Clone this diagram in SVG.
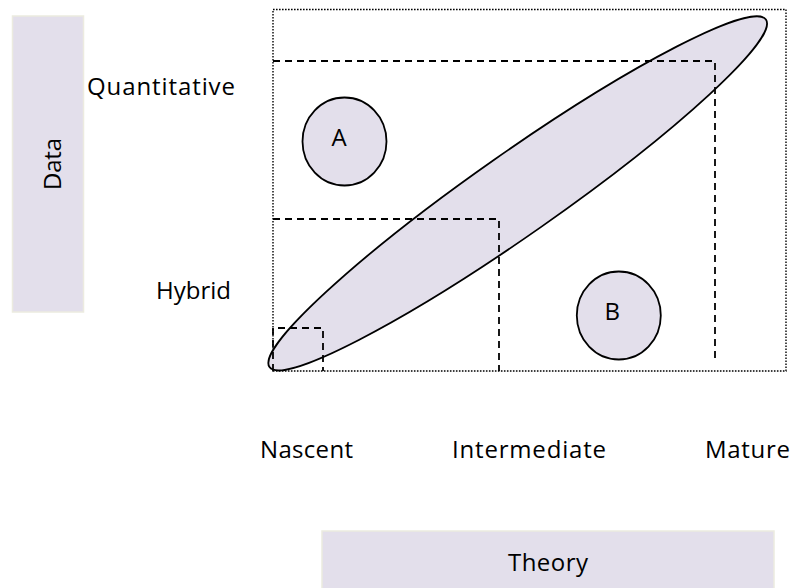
<svg xmlns="http://www.w3.org/2000/svg" width="791" height="588" viewBox="0 0 791 588">
<style>
.lbl{font-family:"Open Sans","Liberation Sans",sans-serif;font-size:24px;fill:#000}
.band{fill:#e3dfeb;stroke:#ecebe0;stroke-width:1.5}
.shape{fill:#e3dfeb;stroke:#000;stroke-width:1.8}
.dash{fill:none;stroke:#000;stroke-width:1.8;stroke-dasharray:7 5}
.dot{fill:none;stroke:#000;stroke-width:1.4;stroke-dasharray:1.6 1.4}
</style>
<rect width="791" height="588" fill="#fff"/>
<g id="data-axis">
<rect class="band" x="12.5" y="16" width="71" height="296"/>
<text class="lbl" transform="translate(61,164) rotate(-90)" text-anchor="middle" textLength="52">Data</text>
</g>
<g id="theory-axis">
<rect class="band" x="322" y="531" width="452" height="62"/>
<text class="lbl" x="508" y="571" textLength="80">Theory</text>
</g>
<g id="axis-labels">
<text class="lbl" x="87" y="95" textLength="148">Quantitative</text>
<text class="lbl" x="156" y="299" textLength="75">Hybrid</text>
<text class="lbl" x="260" y="458" textLength="93">Nascent</text>
<text class="lbl" x="452" y="458" textLength="154">Intermediate</text>
<text class="lbl" x="705" y="458" textLength="85">Mature</text>
</g>
<g id="frame">
<rect class="dot" x="273" y="9.5" width="513" height="361.5"/>
</g>
<g id="diagonal">
<ellipse class="shape" cx="517.7" cy="193.3" rx="303" ry="41" transform="rotate(-35 517.7 193.3)"/>
</g>
<g id="connectors">
<path class="dash" d="M273,61 H715 V358"/>
<path class="dash" d="M273,219 H499 V371"/>
<path class="dash" d="M273,371 V328 H323 V371"/>
</g>
<g id="node-A">
<ellipse class="shape" cx="344.5" cy="141.5" rx="42" ry="44"/>
<text class="lbl" x="331.5" y="146">A</text>
</g>
<g id="node-B">
<ellipse class="shape" cx="618.8" cy="315.5" rx="42" ry="44"/>
<text class="lbl" x="604.5" y="320">B</text>
</g>
</svg>
